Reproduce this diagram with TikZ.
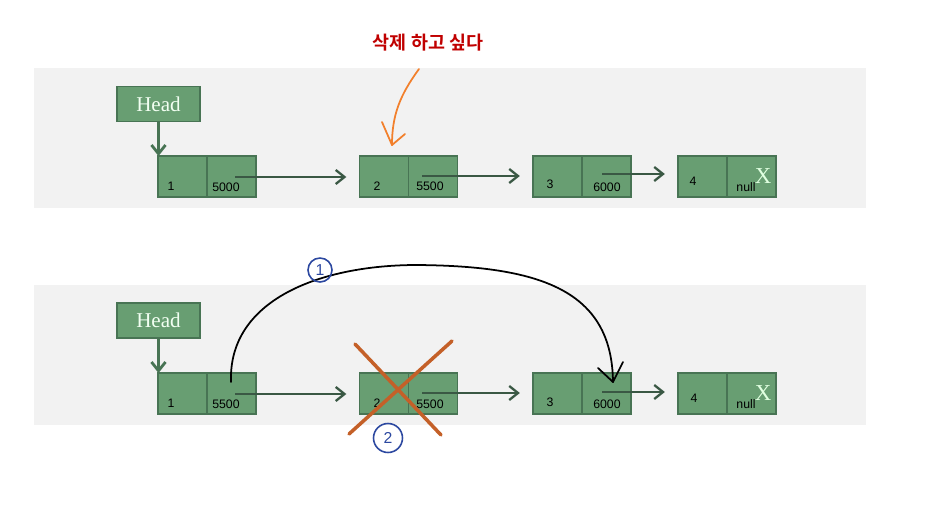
\documentclass[tikz,border=0pt]{standalone}
\usepackage{fontspec}
\setmainfont{Liberation Serif}
\setsansfont{Liberation Sans}
\newfontfamily\kofont{Noto Sans CJK KR}[BoldFont={Noto Sans CJK KR Bold}]
\definecolor{cellGreen}{RGB}{104, 158, 114}
\definecolor{cellEdge}{RGB}{72, 116, 84}
\definecolor{linkGray}{RGB}{58, 88, 68}
\definecolor{panelGray}{RGB}{242, 242, 242}
\definecolor{noteRed}{RGB}{192, 0, 0}
\definecolor{penOrange}{RGB}{242, 128, 44}
\definecolor{penBrown}{RGB}{196, 96, 40}
\definecolor{penBlue}{RGB}{44, 72, 160}
\usetikzlibrary{positioning, arrows.meta}

\begin{document}
\begin{tikzpicture}[
    x=0.02cm, y=-0.02cm,
    cell/.style={rectangle, draw=cellEdge, line width=0.8pt, fill=cellGreen,
                 minimum width=0.98cm, minimum height=0.82cm,
                 inner sep=0pt, outer sep=0pt},
    headbox/.style={rectangle, draw=cellEdge, line width=0.8pt, fill=cellGreen,
                    minimum width=1.66cm, minimum height=0.7cm, inner sep=0pt,
                    font=\fontsize{12}{12}\selectfont, text=green!5},
    num/.style={font=\sffamily\fontsize{7}{8}\selectfont, inner sep=0pt},
    nullmark/.style={font=\fontsize{13}{13}\selectfont, text=green!12, inner sep=0pt},
    link/.style={-{Straight Barb[length=5pt,width=8pt]}, line width=1.3pt,
                 linkGray, shorten >=7.5pt},
    headlink/.style={-{Straight Barb[length=5pt,width=8pt]}, line width=1.6pt, cellEdge},
    pen/.style={line width=1pt, line cap=round, line join=round},
    circled/.style={circle, draw=penBlue, line width=0.9pt, text=penBlue,
                    font=\sffamily\fontsize{9}{9}\selectfont, inner sep=0pt},
  ]
    \useasboundingbox (0,0) rectangle (931,518);

    % Panels
    \fill[panelGray] (34,68) rectangle (866,208);
    \fill[panelGray] (34,285) rectangle (866,425);

    % Note
    \node[font=\kofont\bfseries\fontsize{10.5}{10.5}\selectfont, text=noteRed] (NOTE) at (428,43) {삭제 하고 싶다};
    \coordinate (PEN_S) at (419,69);
    \coordinate (PEN_T) at (392,145);
    \draw[pen, penOrange] (PEN_S) .. controls (400,95) and (392,115) .. (PEN_T);
    \draw[pen, penOrange] (382,122) -- (PEN_T) -- (405,134);

    % Upper list
    \node[headbox] (H1) at (158.5,104) {Head};
    \node[cell] (D1) at (182.5,176.5) {};
    \node[cell, right=0pt of D1] (P1) {};
    \node[cell] (D2) at (384,176.5) {};
    \node[cell, right=0pt of D2] (P2) {};
    \node[cell] (D3) at (557.5,176.5) {};
    \node[cell, right=0pt of D3] (P3) {};
    \node[cell] (D4) at (702.5,176.5) {};
    \node[cell, right=0pt of D4] (P4) {};
    \node[num] (V1) at (171,186) {1};
    \node[num] (A1) at (226,187) {5000};
    \node[num] (V2) at (377,186) {2};
    \node[num] (A2) at (430,186) {5500};
    \node[num] (V3) at (550,184) {3};
    \node[num] (A3) at (607,187) {6000};
    \node[num] (V4) at (693,181) {4};
    \node[nullmark] (X4) at (763,176) {X};
    \node[num] (A4) at (746,187) {null};
    \coordinate (S1) at (235,177);
    \coordinate (S2) at (422,176);
    \coordinate (S3) at (602,174);
    \draw[headlink] (H1.south) -- (H1.south |- D1.north);
    \draw[link] (S1) -- (S1 -| D2.west);
    \draw[link] (S2) -- (S2 -| D3.west);
    \draw[link] (S3) -- (S3 -| D4.west);

    % Lower list
    \node[headbox] (H2) at (158.5,320.5) {Head};
    \node[cell] (E1) at (182.5,393.5) {};
    \node[cell, right=0pt of E1] (Q1) {};
    \node[cell] (E2) at (384,393.5) {};
    \node[cell, right=0pt of E2] (Q2) {};
    \node[cell] (E3) at (557.5,393.5) {};
    \node[cell, right=0pt of E3] (Q3) {};
    \node[cell] (E4) at (702.5,393.5) {};
    \node[cell, right=0pt of E4] (Q4) {};
    \node[num] (W1) at (171,403) {1};
    \node[num] (B1) at (226,404) {5500};
    \node[num] (W2) at (377,403) {2};
    \node[num] (B2) at (430,404) {5500};
    \node[num] (W3) at (550,402) {3};
    \node[num] (B3) at (607,404) {6000};
    \node[num] (W4) at (694,398) {4};
    \node[nullmark] (Y4) at (763,393) {X};
    \node[num] (B4) at (746,404) {null};
    \coordinate (T1) at (235,394);
    \coordinate (T2) at (422,393);
    \coordinate (T3) at (602,392);
    \draw[headlink] (H2.south) -- (H2.south |- E1.north);
    \draw[link] (T1) -- (T1 -| E2.west);
    \draw[link] (T2) -- (T2 -| E3.west);
    \draw[link] (T3) -- (T3 -| E4.west);

    % Bypass and delete marks
    \coordinate (JUMP_S) at (231,382);
    \coordinate (JUMP_T) at (613,382);
    \draw[pen, black] (JUMP_S) .. controls (228,300) and (320,265) .. (417,265)
          .. controls (540,266) and (612,290) .. (JUMP_T);
    \draw[pen, black] (598,368) -- (JUMP_T) -- (623,362);
    \draw[penBrown, line width=2pt, line cap=round] (355,344) -- (441,435);
    \draw[penBrown, line width=2pt, line cap=round] (452,341) -- (349,434);
    \node[circled, minimum size=0.48cm] (M1) at (320,270) {1};
    \node[circled, minimum size=0.58cm] (M2) at (388,438) {2};
  \end{tikzpicture}
\end{document}
